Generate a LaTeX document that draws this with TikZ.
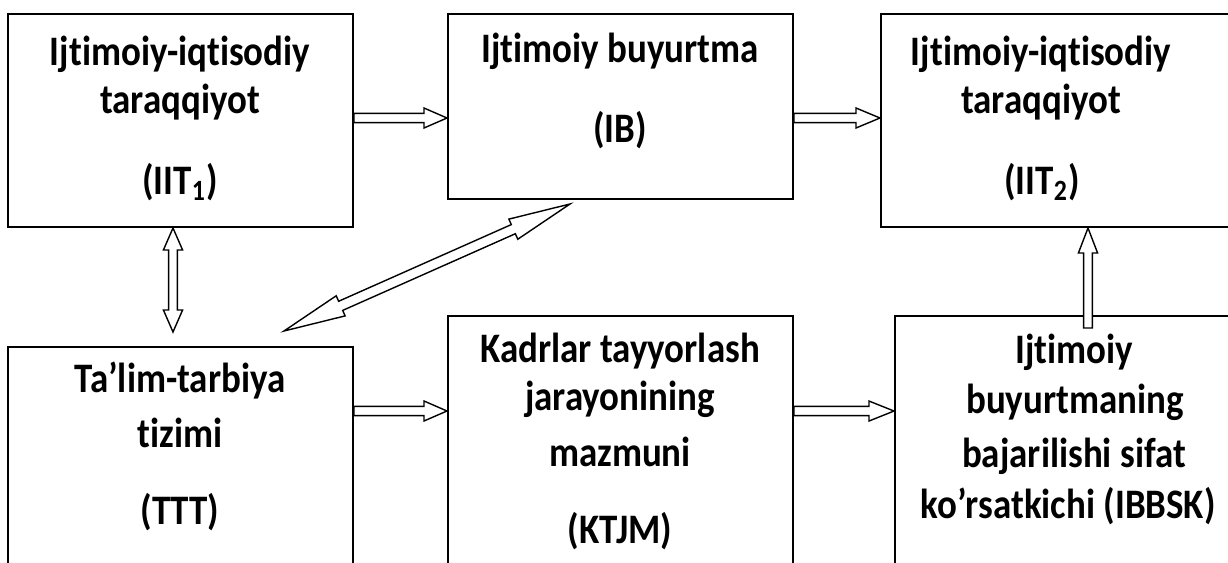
\documentclass[tikz,border=0pt]{standalone}
\usepackage{fontspec}
\setmainfont{Carlito}[Ligatures=NoCommon, FakeStretch=0.88]
\usetikzlibrary{calc,fit}
\tikzset{
  box/.style={draw, line width=1pt, inner sep=0pt},
  lbl/.style={anchor=base, inner sep=0pt, font=\bfseries\fontsize{21}{25}\selectfont},
  barrow/.style={draw, line width=0.7pt, fill=white, line join=miter},
}
% single hollow block arrow: start, end, head length, head half-width, shaft half-width
\newcommand\onearrow[5]{%
  \coordinate (hA) at ($(#2)!#3!(#1)$);
  \draw[barrow] ($(#1)!#5!90:(#2)$) -- ($(hA)!#5!90:(#2)$) -- ($(hA)!#4!90:(#2)$) -- (#2)
    -- ($(hA)!#4!-90:(#2)$) -- ($(hA)!#5!-90:(#2)$) -- ($(#1)!#5!-90:(#2)$) -- cycle;}
% double hollow block arrow
\newcommand\twoarrow[5]{%
  \coordinate (hA) at ($(#2)!#3!(#1)$);
  \coordinate (hB) at ($(#1)!#3!(#2)$);
  \draw[barrow] (#1) -- ($(hB)!#4!90:(#2)$) -- ($(hB)!#5!90:(#2)$) -- ($(hA)!#5!90:(#2)$)
    -- ($(hA)!#4!90:(#2)$) -- (#2) -- ($(hA)!#4!-90:(#2)$) -- ($(hA)!#5!-90:(#2)$)
    -- ($(hB)!#5!-90:(#2)$) -- ($(hB)!#4!-90:(#2)$) -- cycle;}
\begin{document}
\begin{tikzpicture}[x=0.5pt, y=-0.5pt]
\useasboundingbox (0,0) rectangle (1228,563);
\clip (0,0) rectangle (1228,563);
% boxes
\node[box, fit={(8,14) (353,227)}] (b1) {};
\node[box, fit={(448,14) (793,199)}] (b2) {};
\node[box, fit={(881,14) (1250,227)}] (b3) {};
\node[box, fit={(8,347) (353,580)}] (b4) {};
\node[box, fit={(448,316) (793,580)}] (b5) {};
\node[box, fit={(895,316) (1250,580)}] (b6) {};
% texts
\node[lbl] (t1a) at (180,65) {Ijtimoiy-iqtisodiy};
\node[lbl] (t1b) at (180,113) {taraqqiyot};
\node[lbl] (t1c) at (180,194) {(IIT\textsubscript{1})};
\node[lbl] (t2a) at (620,62) {Ijtimoiy buyurtma};
\node[lbl] (t2b) at (620,142) {(IB)};
\node[lbl] (t3a) at (1041,65) {Ijtimoiy-iqtisodiy};
\node[lbl] (t3b) at (1041,113) {taraqqiyot};
\node[lbl] (t3c) at (1042,194) {(IIT\textsubscript{2})};
\node[lbl] (t4a) at (180,392) {Ta’lim-tarbiya};
\node[lbl] (t4b) at (180,447) {tizimi};
\node[lbl] (t4c) at (180,524) {(TTT)};
\node[lbl] (t5a) at (620,362) {Kadrlar tayyorlash};
\node[lbl] (t5b) at (620,410) {jarayonining};
\node[lbl] (t5c) at (620,466) {mazmuni};
\node[lbl] (t5d) at (620,543) {(KTJM)};
\node[lbl] (t6a) at (1074,363) {Ijtimoiy};
\node[lbl] (t6b) at (1075,413) {buyurtmaning};
\node[lbl] (t6c) at (1074,467) {bajarilishi sifat};
\node[lbl] (t6d) at (1068,518) {ko’rsatkichi (IBBSK)};
% arrow end points
\coordinate (s1) at ($(b1.east)+(0,-2.5)$);
\coordinate (e1) at (b2.west |- s1);
\coordinate (s2) at (b2.east |- s1);
\coordinate (e2) at (b3.west |- s1);
\coordinate (s3) at ($(b4.north east)+(0,65)$);
\coordinate (e3) at (b5.west |- s3);
\coordinate (s4) at (b5.east |- s3);
\coordinate (e4) at (b6.west |- s3);
\coordinate (v1) at ($(b1.south west)+(166,0)$);
\coordinate (v2) at ($(b4.north west)+(166,-14)$);
\coordinate (d1) at ($(b4.north west)+(277,-15)$);
\coordinate (d2) at ($(b2.south west)+(123,4)$);
\coordinate (u1) at ($(b6.north west)+(194,13)$);
\coordinate (u2) at (b3.south west -| u1);
% arrows
\onearrow{s1}{e1}{11.5pt}{5pt}{2.3pt}
\onearrow{s2}{e2}{12pt}{5pt}{2.3pt}
\onearrow{s3}{e3}{11.5pt}{5pt}{2.3pt}
\onearrow{s4}{e4}{12.5pt}{5pt}{2.3pt}
\onearrow{u1}{u2}{12.5pt}{4.8pt}{2.2pt}
\twoarrow{v2}{v1}{11pt}{4.8pt}{2.2pt}
\twoarrow{d1}{d2}{31pt}{5.5pt}{2.5pt}
\end{tikzpicture}
\end{document}
